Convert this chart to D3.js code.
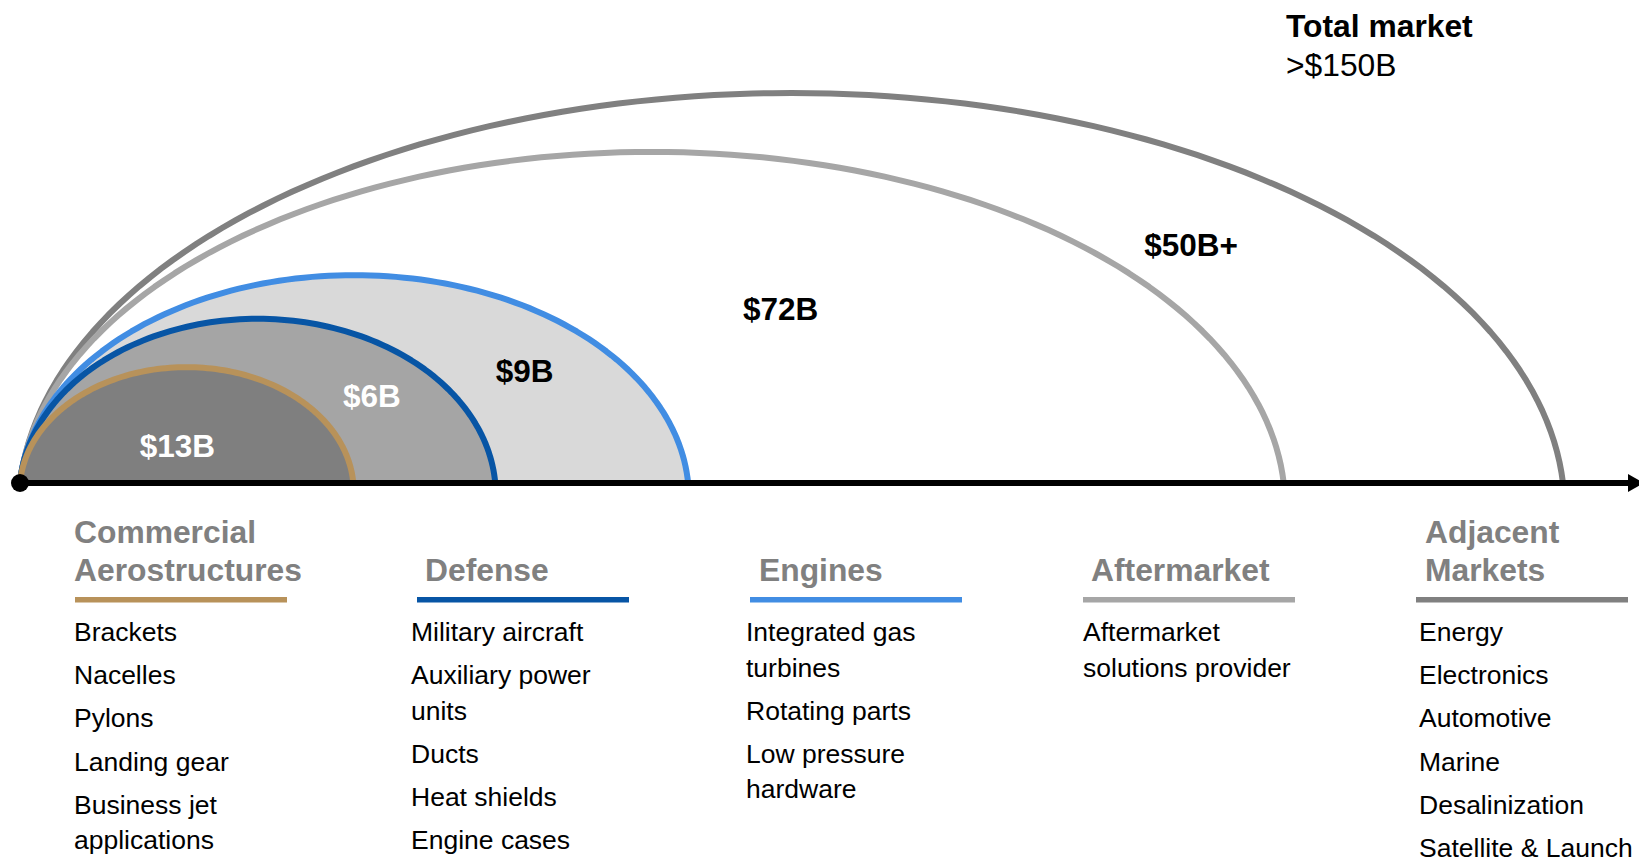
<!DOCTYPE html>
<html>
<head>
<meta charset="utf-8">
<script src="https://cdn.jsdelivr.net/npm/d3@7"></script>
<style>
  html, body { margin: 0; padding: 0; background: #fff; }
  svg { display: block; font-family: Arial, "Liberation Sans", Helvetica, sans-serif; }
</style>
</head>
<body>
<div id="chart"></div>
<script>
// segments of the market, inner arc first
const segments = ["Commercial Aerostructures", "Defense", "Engines", "Aftermarket", "Adjacent Markets"];
const headerLines = [["Commercial", "Aerostructures"], ["Defense"], ["Engines"], ["Aftermarket"], ["Adjacent", "Markets"]];
const marketLabels = ["$13B", "$6B", "$9B", "$72B", "$50B+"];
// reach of each arc along the axis and its height, % of the outer arc
const arcSpan = [21.6, 30.8, 43.3, 81.9, 100];
const arcHeight = [29.7, 42.1, 53.3, 84.9, 100];
const totalTitle = "Total market";
const totalValue = ">$150B";

const items = [
  [["Brackets"], ["Nacelles"], ["Pylons"], ["Landing gear"], ["Business jet", "applications"]],
  [["Military aircraft"], ["Auxiliary power", "units"], ["Ducts"], ["Heat shields"], ["Engine cases"]],
  [["Integrated gas", "turbines"], ["Rotating parts"], ["Low pressure", "hardware"]],
  [["Aftermarket", "solutions provider"]],
  [["Energy"], ["Electronics"], ["Automotive"], ["Marine"], ["Desalinization"], ["Satellite & Launch"]]
];

// styles
const arcStroke = ["#b8925a", "#0755a5", "#418de3", "#a6a6a6", "#808080"];
const arcFill = ["#7f7f7f", "#a5a5a5", "#d9d9d9", "none", "none"];
const labelColor = ["#fff", "#fff", "#000", "#000", "#000"];
// label anchors in the same % units as the arcs
const labelPos = [[10.2, 9.7], [22.8, 22.3], [32.7, 28.7], [49.3, 44.6], [75.9, 61]];

// column layout below the axis
const colX = [75, 417, 750, 1083, 1416];
const headDx = [-1, 8, 9, 8, 9];
const itemDx = [-1, -6, -4, 0, 3];

const width = 1639, height = 857;

const svg = d3.select("#chart").append("svg")
    .attr("width", width)
    .attr("height", height);

const x = d3.scaleLinear().domain([0, 100]).range([20, 1563]);
const y = d3.scaleLinear().domain([0, 100]).range([483, 93]);
const base = y(0);

// half ellipse, centre a bit under the axis so the ends lean out
const arcPath = (span, h) => {
    const x0 = x(0), x1 = x(span);
    const H = base - y(h);
    const d = H * 0.07;
    const b = H + d;
    const a = ((x1 - x0) / 2) / Math.sqrt(1 - (d / b) * (d / b));
    const cx = (x0 + x1) / 2, cy = base + d;
    const t0 = Math.asin(d / b);
    const pts = d3.range(0, 121).map(k => {
        const t = t0 + (Math.PI - 2 * t0) * k / 120;
        return [cx - a * Math.cos(t), cy - b * Math.sin(t)];
    });
    return d3.line()(pts) + "Z";
};

const order = d3.range(segments.length).reverse();

svg.append("g")
  .selectAll("path")
  .data(order)
  .join("path")
    .attr("d", i => arcPath(arcSpan[i], arcHeight[i]))
    .attr("fill", i => arcFill[i])
    .attr("stroke", i => arcStroke[i])
    .attr("stroke-width", 6)
    .attr("stroke-linejoin", "round");

// axis with arrow
svg.append("line")
    .attr("x1", x(0)).attr("x2", 1630)
    .attr("y1", base).attr("y2", base)
    .attr("stroke", "#000")
    .attr("stroke-width", 6);

svg.append("path")
    .attr("d", d3.line()([[1628, base - 9], [1644, base], [1628, base + 9]]) + "Z")
    .attr("fill", "#000");

svg.append("circle")
    .attr("cx", x(0)).attr("cy", base)
    .attr("r", 9)
    .attr("fill", "#000");

// market size labels
svg.append("g")
  .selectAll("text")
  .data(marketLabels)
  .join("text")
    .attr("x", (d, i) => x(labelPos[i][0]))
    .attr("y", (d, i) => y(labelPos[i][1]))
    .attr("dy", "0.36em")
    .attr("text-anchor", "middle")
    .attr("font-size", 31.5)
    .attr("font-weight", "bold")
    .attr("fill", (d, i) => labelColor[i])
    .text(d => d);

// total market
svg.append("text")
    .attr("x", 1286).attr("y", 37)
    .attr("font-size", 31.8)
    .attr("font-weight", "bold")
    .text(totalTitle);
svg.append("text")
    .attr("x", 1286).attr("y", 76)
    .attr("font-size", 31.8)
    .text(totalValue);

// columns
const col = svg.append("g")
  .selectAll("g")
  .data(segments)
  .join("g");

col.each(function(name, i) {
    const g = d3.select(this);
    const lines = headerLines[i];
    lines.forEach((t, j) => {
        g.append("text")
            .attr("x", colX[i] + headDx[i])
            .attr("y", 581 - (lines.length - 1 - j) * 38.5)
            .attr("font-size", 31.8)
            .attr("font-weight", "bold")
            .attr("fill", "#808080")
            .text(t);
    });
    g.append("rect")
        .attr("x", colX[i])
        .attr("y", 597)
        .attr("width", 212)
        .attr("height", 5.5)
        .attr("fill", arcStroke[i]);

    let yy = 641;
    items[i].forEach(item => {
        item.forEach((t, j) => {
            g.append("text")
                .attr("x", colX[i] + itemDx[i])
                .attr("y", yy + j * 35.5)
                .attr("font-size", 26.5)
                .attr("fill", "#000")
                .text(t);
        });
        yy += (item.length - 1) * 35.5 + 43.2;
    });
});
</script>
</body>
</html>
